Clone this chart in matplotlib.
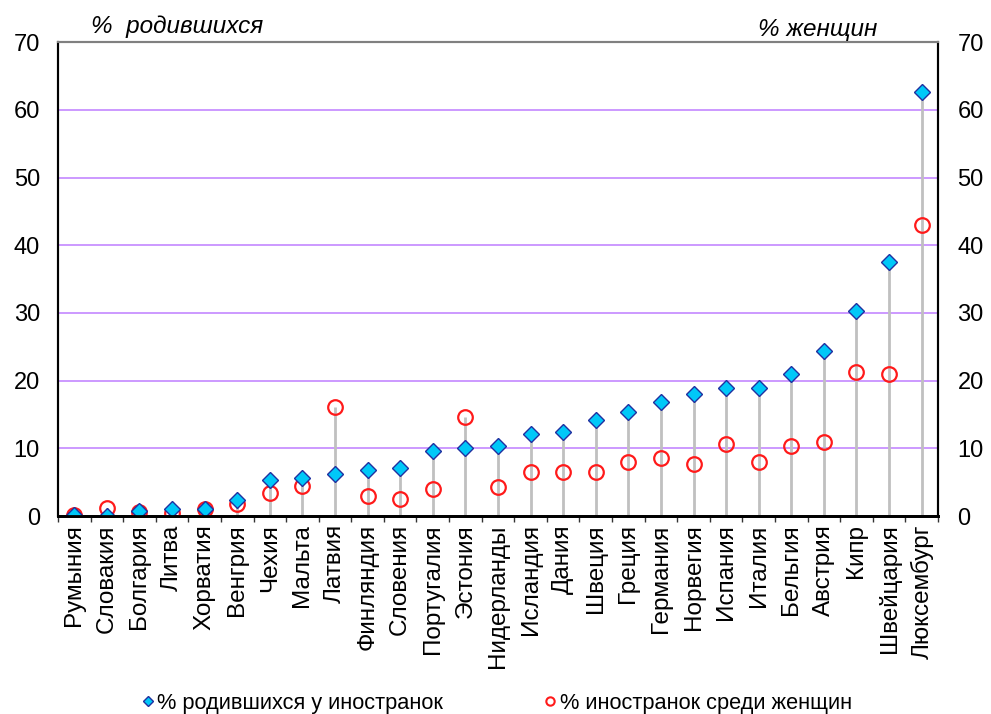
import matplotlib
matplotlib.use("Agg")
import matplotlib.pyplot as plt
from matplotlib.lines import Line2D
import numpy as np

plt.rcParams['font.family'] = ['Liberation Sans', 'DejaVu Sans']

countries = ["Румыния", "Словакия", "Болгария", "Литва", "Хорватия", "Венгрия", "Чехия",
             "Мальта", "Латвия", "Финляндия", "Словения", "Португалия", "Эстония",
             "Нидерланды", "Исландия", "Дания", "Швеция", "Греция", "Германия", "Норвегия",
             "Испания", "Италия", "Бельгия", "Австрия", "Кипр", "Швейцария", "Люксембург"]
births_foreign = [0.1, 0.0, 0.7, 1.0, 1.0, 2.4, 5.3, 5.6, 6.2, 6.8, 7.1, 9.6, 10.0,
                  10.3, 12.1, 12.4, 14.2, 15.4, 16.8, 18.0, 18.9, 18.9, 21.0, 24.4,
                  30.3, 37.5, 62.6]
women_foreign = [0.1, 1.2, 0.6, 0.5, 1.0, 1.8, 3.4, 4.4, 16.1, 3.0, 2.5, 4.0, 14.6,
                 4.3, 6.5, 6.5, 6.5, 8.0, 8.6, 7.7, 10.6, 8.0, 10.3, 10.9,
                 21.3, 21.0, 43.0]
yticks = [0, 10, 20, 30, 40, 50, 60, 70]

fig = plt.figure(figsize=(9.91, 7.14), dpi=100)
ax = fig.add_axes([0.0585, 0.2773, 0.888, 0.6637])

x = np.arange(len(countries))
tops = np.maximum(births_foreign, women_foreign)
ax.vlines(x, 0, tops, colors="#C0C0C0", linewidth=2, zorder=2)

for yv in yticks[1:-1]:
    ax.axhline(yv, color="#CC99FF", linewidth=1.4, zorder=1)

ax.plot(x, women_foreign, linestyle="none", marker="o", markersize=10.5,
        markerfacecolor="none", markeredgecolor="#FF1A1A", markeredgewidth=1.6, zorder=3)
ax.plot(x, births_foreign, linestyle="none", marker="D", markersize=8.5,
        markerfacecolor="#00C8F8", markeredgecolor="#2030A0", markeredgewidth=1.0, zorder=4)

ax.set_xlim(-0.5, len(countries) - 0.5)
ax.set_ylim(0, 70)
ax.set_yticks(yticks)
ax.tick_params(axis="y", length=0, labelsize=17, pad=13)
ax.set_xticks(x)
ax.set_xticklabels(countries, rotation=90, fontsize=17.5)
ax.tick_params(axis="x", length=0, pad=6)
ax.set_xticks(np.arange(-0.5, len(countries), 1), minor=True)
ax.tick_params(axis="x", which="minor", length=4, width=1, direction="out", color="#333333")

ax2 = ax.twinx()
ax2.set_ylim(0, 70)
ax2.set_yticks(yticks)
ax2.tick_params(axis="y", length=0, labelsize=17, pad=14)

for a in (ax, ax2):
    a.spines["left"].set_linewidth(1.5)
    a.spines["right"].set_linewidth(1.5)
    a.spines["bottom"].set_linewidth(2)
    a.spines["top"].set_color("#808080")
    a.spines["top"].set_linewidth(1.5)

fig.text(0.092, 0.963, "%  родившихся", fontsize=17.5, style="italic", ha="left", va="center")
fig.text(0.885, 0.959, "% женщин", fontsize=17.5, style="italic", ha="right", va="center")

handles = [Line2D([], [], linestyle="none", marker="D", markersize=5,
                  markerfacecolor="#00C8F8", markeredgecolor="#2030A0"),
           Line2D([], [], linestyle="none", marker="o", markersize=6,
                  markerfacecolor="none", markeredgecolor="#FF1A1A", markeredgewidth=1.5)]
fig.legend(handles, ["% родившихся у иностранок", "% иностранок среди женщин"],
           loc="center", bbox_to_anchor=(0.5, 0.015), ncol=2, frameon=False,
           fontsize=15.7, handletextpad=0.05, columnspacing=4.5, handlelength=0.8)

fig.savefig("out.png", dpi=100)
